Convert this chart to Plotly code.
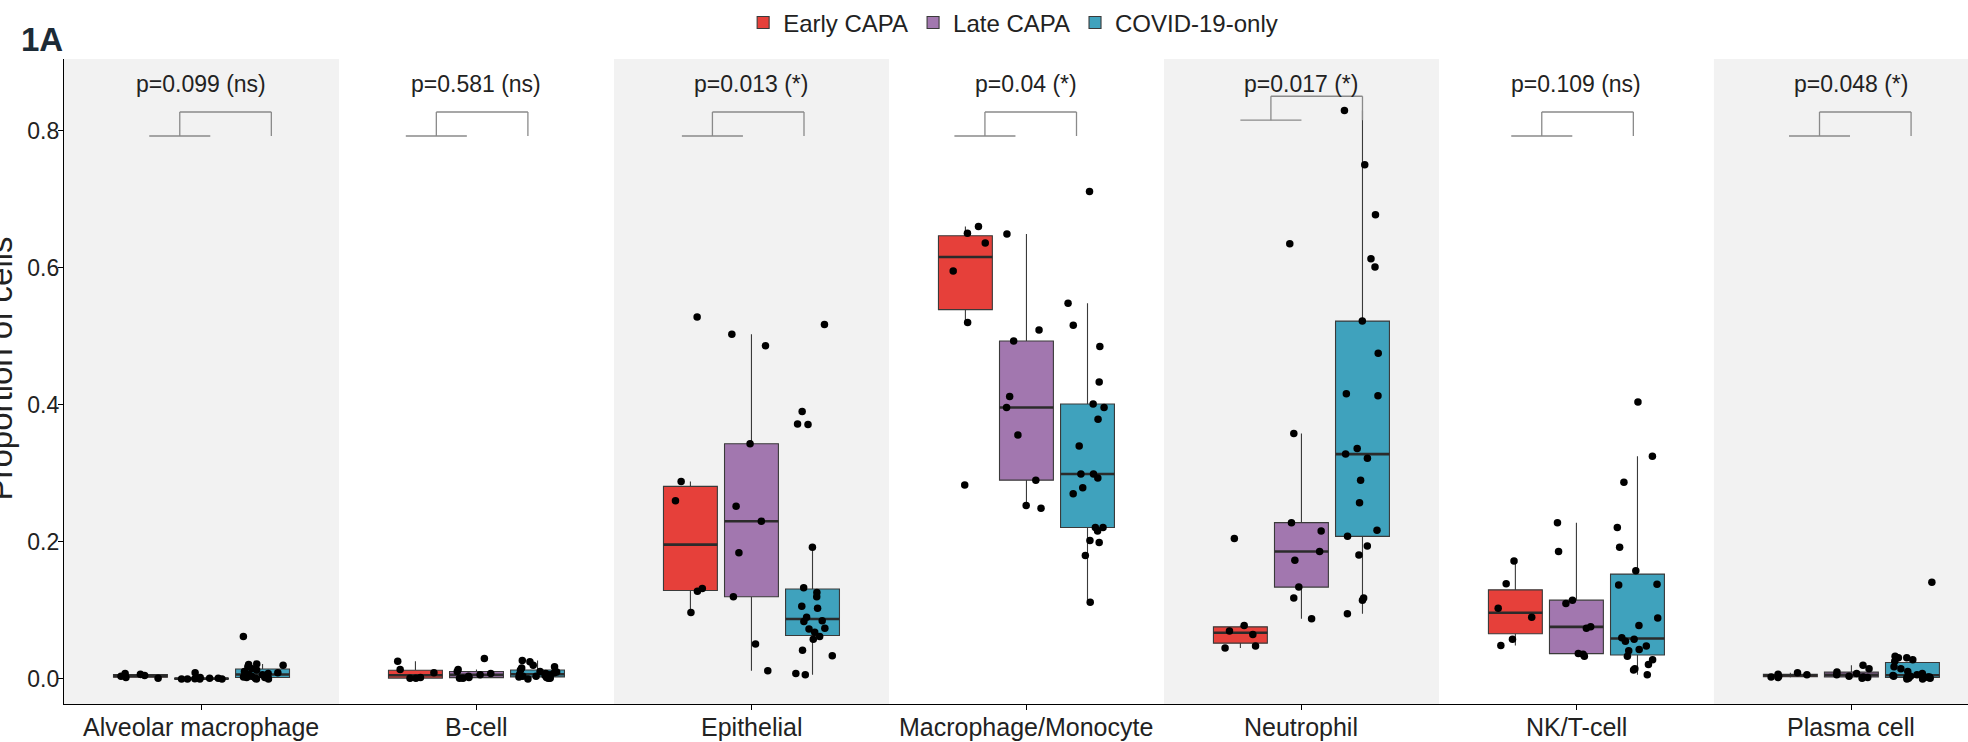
import numpy as np
import plotly.graph_objects as go

categories = ["Alveolar macrophage", "B-cell", "Epithelial", "Macrophage/Monocyte",
              "Neutrophil", "NK/T-cell", "Plasma cell"]
groups = ["Early CAPA", "Late CAPA", "COVID-19-only"]
p_labels = ["p=0.099 (ns)", "p=0.581 (ns)", "p=0.013 (*)", "p=0.04 (*)",
            "p=0.017 (*)", "p=0.109 (ns)", "p=0.048 (*)"]
y_ticks = [0.0, 0.2, 0.4, 0.6, 0.8]

# proportion of cells per patient, one list per cell type (same order as categories)
early_capa = [
    [0.008, 0.007, 0.005, 0.004, 0.002, 0.001],
    [0.026, 0.014, 0.009, 0.002, 0.001, 0.001],
    [0.528, 0.288, 0.260, 0.132, 0.128, 0.097],
    [0.660, 0.650, 0.636, 0.595, 0.520, 0.283],
    [0.205, 0.078, 0.070, 0.065, 0.048, 0.045],
    [0.172, 0.139, 0.103, 0.090, 0.058, 0.049],
    [0.009, 0.007, 0.006, 0.004, 0.003, 0.002],
]
late_capa = [
    [0.009, 0.002, 0.001, 0.001, 0.0005, 0.0, 0.0, 0.0, 0.0],
    [0.030, 0.014, 0.011, 0.008, 0.006, 0.004, 0.002, 0.001, 0.001],
    [0.503, 0.486, 0.343, 0.252, 0.230, 0.184, 0.120, 0.051, 0.012],
    [0.649, 0.509, 0.493, 0.412, 0.396, 0.356, 0.290, 0.253, 0.249],
    [0.635, 0.358, 0.228, 0.216, 0.186, 0.173, 0.134, 0.118, 0.088],
    [0.228, 0.186, 0.115, 0.110, 0.076, 0.074, 0.037, 0.036, 0.033],
    [0.020, 0.015, 0.010, 0.008, 0.006, 0.004, 0.003, 0.002, 0.001],
]
covid_only = [
    [0.062, 0.022, 0.021, 0.020, 0.018, 0.015, 0.013, 0.011, 0.009, 0.008, 0.007,
     0.006, 0.005, 0.004, 0.004, 0.003, 0.002, 0.002, 0.001, 0.001, 0.0, 0.0],
    [0.027, 0.025, 0.020, 0.018, 0.016, 0.013, 0.011, 0.010, 0.009, 0.008, 0.007,
     0.006, 0.005, 0.004, 0.004, 0.003, 0.002, 0.002, 0.001, 0.001, 0.0],
    [0.517, 0.390, 0.372, 0.371, 0.192, 0.133, 0.126, 0.120, 0.106, 0.103, 0.090,
     0.085, 0.084, 0.074, 0.073, 0.068, 0.062, 0.058, 0.042, 0.034, 0.008, 0.006],
    [0.711, 0.548, 0.516, 0.485, 0.433, 0.401, 0.396, 0.379, 0.340, 0.299, 0.299,
     0.293, 0.279, 0.270, 0.221, 0.221, 0.216, 0.202, 0.199, 0.180, 0.112],
    [0.829, 0.750, 0.677, 0.613, 0.601, 0.522, 0.475, 0.416, 0.413, 0.336, 0.328,
     0.322, 0.290, 0.257, 0.217, 0.208, 0.194, 0.181, 0.118, 0.115, 0.095],
    [0.404, 0.325, 0.287, 0.221, 0.192, 0.158, 0.138, 0.137, 0.089, 0.078, 0.060,
     0.058, 0.055, 0.048, 0.043, 0.041, 0.033, 0.028, 0.021, 0.015, 0.013, 0.006],
    [0.141, 0.033, 0.031, 0.031, 0.028, 0.026, 0.018, 0.015, 0.011, 0.008, 0.006,
     0.005, 0.004, 0.004, 0.003, 0.003, 0.002, 0.002, 0.001, 0.001, 0.0, 0.0],
]
group_data = [early_capa, late_capa, covid_only]

# ---- styling ----
fills = ["#E6403A", "#A277AF", "#3FA2BD"]
dodge = [-0.222, 0.0, 0.222]
box_w = 0.196
font_family = "Liberation Sans, Arial, sans-serif"
txt = "#222222"
bracket_lo = [0.792, 0.792, 0.792, 0.792, 0.815, 0.792, 0.792]
bracket_gap = 0.035
bracket_shift = [0.067, 0.0, 0.004, -0.005, 0.035, 0.02, 0.03]


def box_stats(v):
    a = np.sort(np.asarray(v, dtype=float))
    q1, med, q3 = np.percentile(a, [25, 50, 75])
    iqr = q3 - q1
    lo = a[a >= q1 - 1.5 * iqr].min()
    hi = a[a <= q3 + 1.5 * iqr].max()
    return q1, med, q3, lo, hi


fig = go.Figure()
rng = np.random.default_rng(11)

for g, (gname, data) in enumerate(zip(groups, group_data)):
    xs, q1s, meds, q3s, los, his = [], [], [], [], [], []
    for i, vals in enumerate(data):
        q1, med, q3, lo, hi = box_stats(vals)
        xs.append(i + dodge[g]); q1s.append(q1); meds.append(med)
        q3s.append(q3); los.append(lo); his.append(hi)
    fig.add_trace(go.Box(
        x=xs, q1=q1s, median=meds, q3=q3s, lowerfence=los, upperfence=his,
        width=box_w, fillcolor=fills[g], line=dict(color="#3a3a3a", width=1.1),
        whiskerwidth=0, boxpoints=False, name=gname, legendgroup=gname,
        hoverinfo="skip"))
    # thicker median bars (ggplot style)
    mx, my = [], []
    for x, m in zip(xs, meds):
        mx += [x - box_w / 2, x + box_w / 2, None]
        my += [m, m, None]
    fig.add_trace(go.Scatter(x=mx, y=my, mode="lines",
                             line=dict(color="#2b2b2b", width=2.6),
                             showlegend=False, legendgroup=gname, hoverinfo="skip"))
    # jittered points
    px, py = [], []
    for i, vals in enumerate(data):
        jit = rng.uniform(-0.075, 0.075, len(vals))
        px += list(i + dodge[g] + jit)
        py += list(vals)
    fig.add_trace(go.Scatter(x=px, y=py, mode="markers",
                             marker=dict(color="black", size=7.5),
                             showlegend=False, legendgroup=gname, hoverinfo="skip"))

shapes = []
# alternating panel bands
for i in range(len(categories)):
    if i % 2 == 0:
        shapes.append(dict(type="rect", xref="x", yref="paper", x0=i - 0.5, x1=i + 0.5,
                           y0=0, y1=1, fillcolor="#F2F2F2", line=dict(width=0),
                           layer="below"))
# comparison brackets
bc = dict(color="#8a8a8a", width=1.3)
for i in range(len(categories)):
    s = bracket_shift[i]
    lo = bracket_lo[i]
    hi = lo + bracket_gap
    xa, xb = i + dodge[0] - 0.035 + s, i + dodge[1] - 0.035 + s
    xm = (xa + xb) / 2
    xr = i + dodge[2] - 0.035 + s
    shapes += [
        dict(type="line", xref="x", yref="y", x0=xa, x1=xb, y0=lo, y1=lo, line=bc),
        dict(type="line", xref="x", yref="y", x0=xm, x1=xm, y0=lo, y1=hi, line=bc),
        dict(type="line", xref="x", yref="y", x0=xm, x1=xr, y0=hi, y1=hi, line=bc),
        dict(type="line", xref="x", yref="y", x0=xr, x1=xr, y0=hi, y1=lo, line=bc),
    ]

annotations = []
for i, lab in enumerate(p_labels):
    annotations.append(dict(x=i, y=0.868, xref="x", yref="y", text=lab, showarrow=False,
                            font=dict(size=23, color=txt, family=font_family),
                            xanchor="center", yanchor="middle"))
# category labels under the axis
for i, cat in enumerate(categories):
    annotations.append(dict(x=i, y=0, xref="x", yref="paper", text=cat, showarrow=False,
                            xanchor="center", yanchor="middle", yshift=-23,
                            font=dict(size=25, color=txt, family=font_family)))
annotations.append(dict(x=-0.0235, y=1.0295, xref="paper", yref="paper", text="<b>1A</b>",
                        showarrow=False, xanchor="left", yanchor="middle",
                        font=dict(size=33, color="#1d2b36", family=font_family)))
annotations.append(dict(x=-0.0331, y=0.52, xref="paper", yref="paper",
                        text="Proportion of cells", textangle=-90, showarrow=False,
                        xanchor="center", yanchor="middle",
                        font=dict(size=33, color=txt, family=font_family)))

fig.update_layout(
    width=1968, height=742, autosize=False,
    margin=dict(l=64, r=0, t=59, b=38, pad=0),
    paper_bgcolor="white", plot_bgcolor="white",
    boxmode="overlay",
    shapes=shapes, annotations=annotations,
    font=dict(family=font_family, color=txt),
    legend=dict(orientation="h", x=0.4985, y=1.056, xanchor="center", yanchor="middle",
                font=dict(size=24, color=txt, family=font_family),
                bgcolor="rgba(0,0,0,0)", itemwidth=30, tracegroupgap=0),
    xaxis=dict(range=[-0.5, 6.424], tickmode="array",
               tickvals=list(range(len(categories))), showticklabels=False,
               showline=True, linecolor="black", linewidth=1.3,
               ticks="outside", ticklen=5, tickcolor="black", tickwidth=1.2,
               showgrid=False, zeroline=False),
    yaxis=dict(range=[-0.0365, 0.9043], tickmode="array", tickvals=y_ticks,
               ticktext=[f"{v:.1f}" for v in y_ticks],
               showline=True, linecolor="black", linewidth=1.3,
               ticks="outside", ticklen=5, tickcolor="black", tickwidth=1.2,
               ticklabelstandoff=-6,
               showgrid=False, zeroline=False,
               tickfont=dict(size=23, color=txt, family=font_family)),
)

# page body has a default 8px margin; remove it so the figure sits at the window origin
fig.write_html("out.html", config={"displayModeBar": False},
               post_script="document.body.style.margin='0px';")
